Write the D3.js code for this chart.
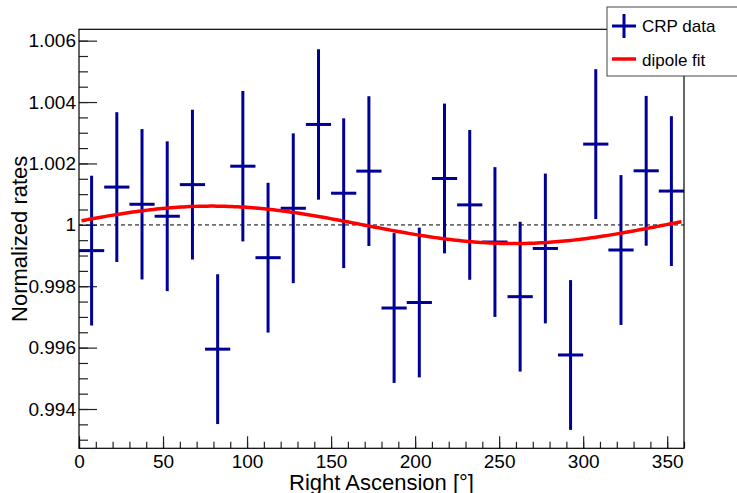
<!DOCTYPE html>
<html>
<head>
<meta charset="utf-8">
<script src="https://cdn.jsdelivr.net/npm/d3@7"></script>
<style>
  body { margin: 0; background: #fff; }
  svg { display: block; font-family: "Liberation Sans", Arial, Helvetica, sans-serif; }
</style>
</head>
<body>
<div id="chart"></div>
<script>
// bin centres (15 degree bins), normalized rates and their errors
const raCenters = [7.5, 22.5, 37.5, 52.5, 67.5, 82.5, 97.5, 112.5, 127.5, 142.5, 157.5, 172.5,
                   187.5, 202.5, 217.5, 232.5, 247.5, 262.5, 277.5, 292.5, 307.5, 322.5, 337.5, 352.5];
const rates = [0.99916, 1.00123, 1.00067, 1.00028, 1.00131, 0.99595, 1.00191, 0.99893, 1.00054, 1.00327, 1.00103, 1.00175,
               0.99729, 0.99747, 1.00151, 1.00065, 0.99944, 0.99766, 0.99923, 0.99576, 1.00263, 0.99918, 1.00176, 1.00110];
const rateErrors = [0.00244, 0.00244, 0.00245, 0.00244, 0.00244, 0.00244, 0.00245, 0.00244, 0.00244, 0.00245, 0.00244, 0.00244,
                    0.00244, 0.00244, 0.00244, 0.00244, 0.00244, 0.00244, 0.00244, 0.00244, 0.00244, 0.00244, 0.00244, 0.00244];
const binWidth = 15;

// dipole fit: A + B*cos(ra - phase)
const fitParams = { offset: 1.0, amplitude: 0.00061, phase: 79 };
const fitRange = [1.5, 358.5];

const xTickValues = [0, 50, 100, 150, 200, 250, 300, 350];
const xTickLabels = ["0", "50", "100", "150", "200", "250", "300", "350"];
const yTickValues = [0.994, 0.996, 0.998, 1.0, 1.002, 1.004, 1.006];
const yTickLabels = ["0.994", "0.996", "0.998", "1", "1.002", "1.004", "1.006"];

const legendItems = ["CRP data", "dipole fit"];

const width = 737, height = 493;
const margin = { top: 29.3, right: 53, bottom: 44.7, left: 79 };
const dataColor = "#000099", fitColor = "#ff0000";

const svg = d3.select("#chart").append("svg")
  .attr("width", width)
  .attr("height", height);

const x = d3.scaleLinear().domain([0, 360]).range([margin.left, width - margin.right]);
const y = d3.scaleLinear().domain([0.99272, 1.00637]).range([height - margin.bottom, margin.top]);

// reference line at 1
svg.append("line")
  .attr("x1", x(0)).attr("x2", x(360))
  .attr("y1", y(1)).attr("y2", y(1))
  .attr("stroke", "#6e6e6e")
  .attr("stroke-width", 1.6)
  .attr("stroke-dasharray", "4,3");

// axes (ticks pointing inward)
const fmtX = d => xTickLabels[xTickValues.indexOf(d)];
const fmtY = d => yTickLabels[yTickValues.indexOf(d)];

const xAxisMinor = d3.axisBottom(x).tickValues(d3.range(0, 361, 10)).tickSize(-6.5).tickFormat("");
const xAxisMajor = d3.axisBottom(x).tickValues(xTickValues).tickSize(-12).tickPadding(6).tickFormat(fmtX);
const yAxisMinor = d3.axisLeft(y).tickValues(d3.range(0, 27).map(i => 0.993 + i * 0.0005)).tickSize(-9).tickFormat("");
const yAxisMajor = d3.axisLeft(y).tickValues(yTickValues).tickSize(-18).tickPadding(3).tickFormat(fmtY);

function drawAxis(axis, transform, fontSize) {
  const g = svg.append("g").attr("transform", transform).call(axis);
  g.select(".domain").remove();
  g.selectAll(".tick line").attr("stroke", "#222").attr("stroke-width", 1.2);
  g.selectAll(".tick text")
    .attr("fill", "#000")
    .style("font-size", fontSize + "px")
    .style("font-family", "'Liberation Sans', Arial, Helvetica, sans-serif");
  return g;
}

drawAxis(xAxisMinor, `translate(0,${y.range()[0]})`, 19);
drawAxis(xAxisMajor, `translate(0,${y.range()[0]})`, 19);
drawAxis(yAxisMinor, `translate(${x(0)},0)`, 19);
drawAxis(yAxisMajor, `translate(${x(0)},0)`, 19);

// fit curve
const fitFn = ra => fitParams.offset + fitParams.amplitude * Math.cos((ra - fitParams.phase) * Math.PI / 180);
const fitSamples = d3.range(0, 201).map(i => fitRange[0] + (fitRange[1] - fitRange[0]) * i / 200);

// data points with error bars
const pts = svg.append("g").selectAll("g")
  .data(raCenters.map((ra, i) => ({ ra, v: rates[i], e: rateErrors[i] })))
  .join("g");

pts.append("line")
  .attr("x1", d => x(d.ra)).attr("x2", d => x(d.ra))
  .attr("y1", d => y(d.v - d.e)).attr("y2", d => y(d.v + d.e))
  .attr("stroke", dataColor).attr("stroke-width", 3);

pts.append("line")
  .attr("x1", d => x(d.ra - binWidth / 2)).attr("x2", d => x(d.ra + binWidth / 2))
  .attr("y1", d => y(d.v)).attr("y2", d => y(d.v))
  .attr("stroke", dataColor).attr("stroke-width", 3);

svg.append("path")
  .datum(fitSamples)
  .attr("fill", "none")
  .attr("stroke", fitColor)
  .attr("stroke-width", 3.5)
  .attr("d", d3.line().x(d => x(d)).y(d => y(fitFn(d))));

// frame
svg.append("rect")
  .attr("x", x(0)).attr("y", margin.top)
  .attr("width", x(360) - x(0))
  .attr("height", y.range()[0] - margin.top)
  .attr("fill", "none")
  .attr("stroke", "#000")
  .attr("stroke-width", 1.2);

// axis titles
svg.append("text")
  .attr("x", (x(0) + x(360)) / 2)
  .attr("y", 490)
  .attr("text-anchor", "middle")
  .style("font-size", "22px")
  .text("Right Ascension [°]");

svg.append("text")
  .attr("transform", `translate(27,${(y.range()[0] + margin.top) / 2}) rotate(-90)`)
  .attr("text-anchor", "middle")
  .style("font-size", "22px")
  .text("Normalized rates");

// legend
const legend = svg.append("g").attr("transform", "translate(607,7)");
legend.append("rect")
  .attr("width", 140).attr("height", 69)
  .attr("fill", "#fff")
  .attr("stroke", "#444")
  .attr("stroke-width", 1);

legend.append("line").attr("x1", 5).attr("x2", 29).attr("y1", 19).attr("y2", 19)
  .attr("stroke", dataColor).attr("stroke-width", 3);
legend.append("line").attr("x1", 17).attr("x2", 17).attr("y1", 7).attr("y2", 31)
  .attr("stroke", dataColor).attr("stroke-width", 3);
legend.append("line").attr("x1", 5).attr("x2", 29).attr("y1", 52).attr("y2", 52)
  .attr("stroke", fitColor).attr("stroke-width", 3.5);

legend.selectAll("text.item")
  .data(legendItems)
  .join("text")
  .attr("class", "item")
  .attr("x", 35)
  .attr("y", (d, i) => 25 + i * 34)
  .style("font-size", "17px")
  .text(d => d);
</script>
</body>
</html>
